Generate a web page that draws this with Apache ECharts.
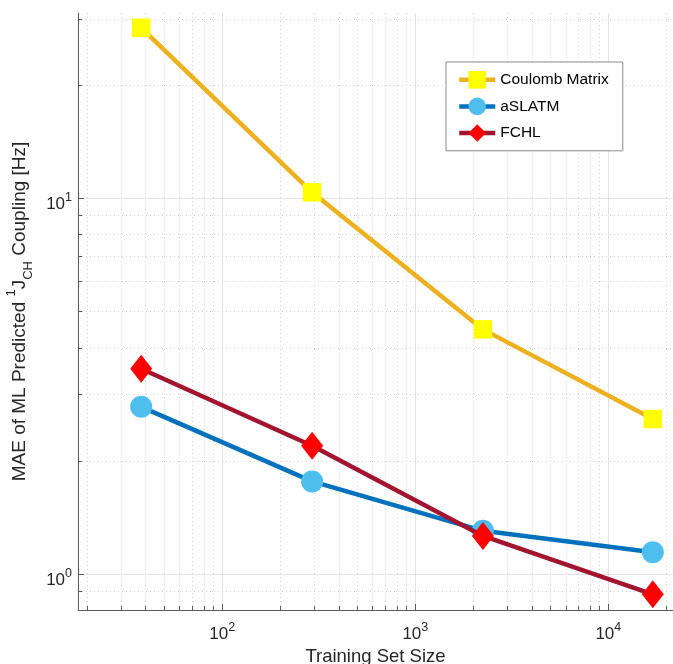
<!DOCTYPE html>
<html>
<head>
<meta charset="utf-8">
<script src="https://cdn.jsdelivr.net/npm/echarts@6/dist/echarts.min.js"></script>
<style>
html,body{margin:0;padding:0;background:#fff;}
#chart{width:673px;height:664px;}
</style>
</head>
<body>
<div id="chart"></div>
<script>
// ---- data ----
const trainingSizes = [38, 292, 2240, 17000];
const seriesNames = ['Coulomb Matrix', 'aSLATM', 'FCHL'];
const coulombMAE = [28.4, 10.36, 4.47, 2.58];
const aslatmMAE = [2.78, 1.76, 1.30, 1.14];
const fchlMAE = [3.51, 2.19, 1.26, 0.881];

// ---- axis ticks ----
const xMajorTicks = [100, 1000, 10000];
const xMinorTicks = [20, 30, 40, 50, 60, 70, 80, 90,
  200, 300, 400, 500, 600, 700, 800, 900,
  2000, 3000, 4000, 5000, 6000, 7000, 8000, 9000, 20000];
const yMajorTicks = [1, 10];
const yMinorTicks = [0.9, 2, 3, 4, 5, 6, 7, 8, 9, 20, 30];

const X_MIN = 17.88, X_MAX = 21630;
const Y_MIN = 0.8, Y_MAX = 31.1;

const FONT = '"Liberation Sans", Arial, Helvetica, sans-serif';
const AXIS_COLOR = '#5a5a5a';
const TEXT_COLOR = '#262626';
const MAJOR_GRID = '#e3e3e3';
const MINOR_GRID = '#d2d2d2';

function px(v) { return Math.round(v) + 0.5; }

function pow10Label(v) {
  const l = Math.log10(v);
  const r = Math.round(l);
  if (Math.abs(l - r) > 1e-6) return '';
  return '{b|10}{s|' + r + '}';
}

const labelRich = {
  b: { fontSize: 17, lineHeight: 22, verticalAlign: 'bottom', fontFamily: FONT, color: TEXT_COLOR },
  s: { fontSize: 12.5, lineHeight: 11, verticalAlign: 'top', fontFamily: FONT, color: TEXT_COLOR }
};

function renderXGrid(params, api) {
  const v = api.value(0), major = api.value(2);
  const a = api.coord([v, Y_MIN]);
  const b = api.coord([v, Y_MAX]);
  const x = px(a[0]);
  return {
    type: 'group',
    children: [
      { type: 'line', shape: { x1: x, y1: a[1], x2: x, y2: b[1] },
        style: major ? { stroke: MAJOR_GRID, lineWidth: 1 } : { stroke: MINOR_GRID, lineWidth: 1, lineDash: [1, 3] } },
      { type: 'line', shape: { x1: x, y1: a[1], x2: x, y2: a[1] - (major ? 6 : 4) },
        style: { stroke: AXIS_COLOR, lineWidth: 1 } }
    ]
  };
}

function renderYGrid(params, api) {
  const v = api.value(1), major = api.value(2);
  const a = api.coord([X_MIN, v]);
  const b = api.coord([X_MAX, v]);
  const y = px(a[1]);
  return {
    type: 'group',
    children: [
      { type: 'line', shape: { x1: a[0], y1: y, x2: b[0], y2: y },
        style: major ? { stroke: MAJOR_GRID, lineWidth: 1 } : { stroke: MINOR_GRID, lineWidth: 1, lineDash: [1, 3] } },
      { type: 'line', shape: { x1: a[0], y1: y, x2: a[0] + (major ? 6 : 4), y2: y },
        style: { stroke: AXIS_COLOR, lineWidth: 1 } }
    ]
  };
}

const xGridData = xMinorTicks.map(v => [v, Y_MIN, 0]).concat(xMajorTicks.map(v => [v, Y_MIN, 1]));
const yGridData = yMinorTicks.map(v => [X_MIN, v, 0]).concat(yMajorTicks.map(v => [X_MIN, v, 1]));

function pairs(ys) { return trainingSizes.map((x, i) => [x, ys[i]]); }

const chart = echarts.init(document.getElementById('chart'), null, { renderer: 'canvas' });
chart.setOption({
  animation: false,
  backgroundColor: '#fff',
  textStyle: { fontFamily: FONT },
  grid: { left: 78, right: 0, top: 13, bottom: 54, containLabel: false, outerBoundsMode: 'none' },
  xAxis: {
    type: 'log', logBase: 10, min: X_MIN, max: X_MAX,
    name: 'Training Set Size', nameLocation: 'middle', nameGap: 35,
    nameTextStyle: { fontSize: 18.5, color: TEXT_COLOR, fontFamily: FONT },
    axisLine: { onZero: false, lineStyle: { color: AXIS_COLOR, width: 1 } },
    axisTick: { show: false },
    minorTick: { show: false },
    splitLine: { show: false },
    axisLabel: { formatter: pow10Label, rich: labelRich, margin: 11, hideOverlap: false, showMinLabel: true, showMaxLabel: true }
  },
  yAxis: {
    type: 'log', logBase: 10, min: Y_MIN, max: Y_MAX,
    name: '{n|MAE of ML Predicted }{sup|1}{n|J}{sub|CH}{n| Coupling [Hz]}',
    nameLocation: 'middle', nameGap: 37, nameRotate: 90,
    nameTextStyle: {
      color: TEXT_COLOR, fontFamily: FONT,
      rich: {
        n: { fontSize: 19, lineHeight: 30, verticalAlign: 'middle', fontFamily: FONT, color: TEXT_COLOR },
        sup: { fontSize: 13, lineHeight: 13, verticalAlign: 'top', fontFamily: FONT, color: TEXT_COLOR },
        sub: { fontSize: 13, lineHeight: 13, verticalAlign: 'bottom', fontFamily: FONT, color: TEXT_COLOR }
      }
    },
    axisLine: { onZero: false, lineStyle: { color: AXIS_COLOR, width: 1 } },
    axisTick: { show: false },
    minorTick: { show: false },
    splitLine: { show: false },
    axisLabel: { formatter: pow10Label, rich: labelRich, margin: 6, padding: [8, 0, 0, 0], hideOverlap: false }
  },
  legend: {
    orient: 'vertical', left: 446, top: 62, z: 10,
    data: seriesNames,
    backgroundColor: '#fff', borderColor: '#8c8c8c', borderWidth: 1, borderRadius: 0,
    padding: [9, 14, 9, 11],
    itemWidth: 36, itemHeight: 22, itemGap: 9,
    lineStyle: { width: 4.5 },
    textStyle: { fontSize: 15.5, color: '#000', fontFamily: FONT }
  },
  series: [
    { type: 'custom', name: 'xgrid', data: xGridData, renderItem: renderXGrid, silent: true, z: 1, encode: { x: 0, y: 1 }, clip: false },
    { type: 'custom', name: 'ygrid', data: yGridData, renderItem: renderYGrid, silent: true, z: 1, encode: { x: 0, y: 1 }, clip: false },
    {
      name: seriesNames[0], type: 'line', data: pairs(coulombMAE), z: 2,
      lineStyle: { color: '#EDB120', width: 4.5 },
      itemStyle: { color: '#FFFF00', borderWidth: 0 },
      symbol: 'rect', symbolSize: 18.5, showAllSymbol: true
    },
    {
      name: seriesNames[1], type: 'line', data: pairs(aslatmMAE), z: 3,
      lineStyle: { color: '#0072BD', width: 4.5 },
      itemStyle: { color: '#4DBEEE', borderWidth: 0 },
      symbol: 'circle', symbolSize: 22, showAllSymbol: true
    },
    {
      name: seriesNames[2], type: 'line', data: pairs(fchlMAE), z: 4,
      lineStyle: { color: '#A2142F', width: 4.5 },
      itemStyle: { color: '#FF0000', borderWidth: 0 },
      symbol: 'diamond', symbolSize: [22, 28], showAllSymbol: true
    }
  ]
});
</script>
</body>
</html>
